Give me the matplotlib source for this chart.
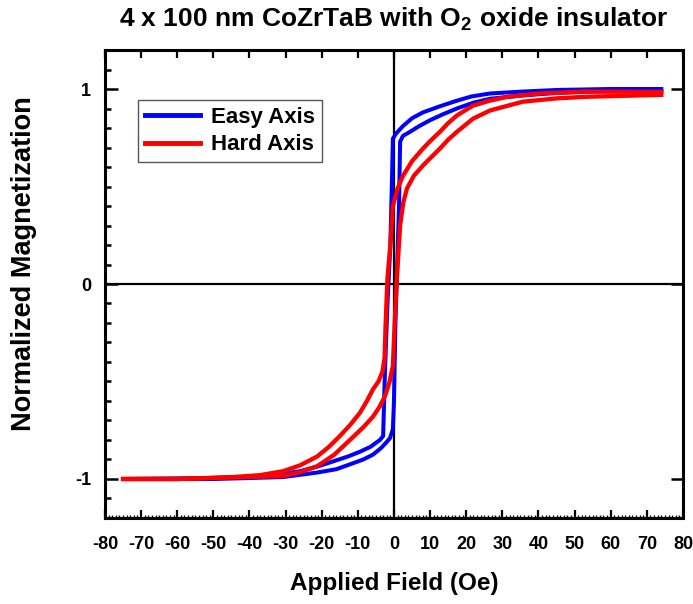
import numpy as np
import matplotlib
matplotlib.use('Agg')
from matplotlib import pyplot as plt
from matplotlib.ticker import MultipleLocator

# easy axis loop, field sweep up then down (Oe, normalized M)
easy_up_h = [-75, -60, -50, -40, -30.7, -21.3, -16, -12.2, -8.5, -5.8, -3.5, -2, -1.1, -0.3,
             0, 0.4, 0.9, 1.4, 1.7, 2.5, 4.4, 7, 10, 13.5, 17.4, 22, 26.6, 35.7, 45, 60, 74]
easy_up_m = [-1.0, -1.0, -1.0, -0.995, -0.99, -0.967, -0.95, -0.925, -0.9, -0.875, -0.84, -0.81,
             -0.79, -0.745, -0.6, -0.2, 0.1, 0.4, 0.73, 0.76, 0.78, 0.81, 0.84, 0.87, 0.90,
             0.93, 0.95, 0.967, 0.98, 0.99, 0.99]
easy_dn_h = [74, 60, 45, 35.7, 26.6, 21.5, 17.4, 12.5, 8, 5, 2.5, 0.5, -0.3, -0.6, -1.0, -1.8,
             -2.5, -3, -3.9, -6.5, -9.4, -12.8, -16.9, -21, -26, -35, -50, -75]
easy_dn_m = [1.0, 1.0, 0.995, 0.987, 0.977, 0.962, 0.94, 0.91, 0.88, 0.85, 0.81, 0.77, 0.745,
             0.5, 0.2, -0.1, -0.45, -0.78, -0.80, -0.835, -0.86, -0.885, -0.91, -0.935, -0.96,
             -0.985, -0.995, -1.0]

# hard axis loop
hard_up_h = [-75, -60, -50, -40, -30.7, -26, -21.3, -16.5, -12.2, -8.5, -5.8, -4, -2.5, -1.2,
             -0.3, 0.2, 0.8, 1.7, 2.6, 3.6, 5.5, 8, 10.3, 12.7, 15, 17.4, 21.9, 26.6, 35.7,
             45, 53, 74]
hard_up_m = [-1.0, -1.0, -0.995, -0.99, -0.985, -0.965, -0.935, -0.875, -0.80, -0.735, -0.68,
             -0.63, -0.576, -0.5, -0.42, -0.2, 0.03, 0.30, 0.42, 0.49, 0.555, 0.607, 0.65,
             0.694, 0.74, 0.78, 0.848, 0.89, 0.935, 0.952, 0.96, 0.97]
hard_dn_h = [74, 53, 40.4, 31.3, 26.5, 21.9, 17.4, 15, 12.7, 10.3, 8, 5, 2.5, 1, -0.3, -1.0,
             -1.8, -2.3, -2.6, -3.2, -4.3, -5.8, -7.5, -9.4, -12, -15, -18, -21.3, -26,
             -30.7, -37, -44.6, -60, -75]
hard_dn_m = [0.985, 0.987, 0.977, 0.96, 0.94, 0.915, 0.864, 0.825, 0.78, 0.738, 0.694, 0.63,
             0.555, 0.49, 0.40, 0.2, 0.03, -0.2, -0.38, -0.45, -0.5, -0.54, -0.6, -0.66,
             -0.72, -0.78, -0.835, -0.885, -0.93, -0.96, -0.98, -0.99, -1.0, -1.0]

plt.rcParams['font.family'] = ['Liberation Sans', 'DejaVu Sans']
plt.rcParams['font.weight'] = 'bold'
plt.rcParams['axes.unicode_minus'] = False
plt.rcParams['mathtext.fontset'] = 'custom'
plt.rcParams['mathtext.rm'] = 'Liberation Sans:bold'
plt.rcParams['mathtext.it'] = 'Liberation Sans:bold'
plt.rcParams['mathtext.bf'] = 'Liberation Sans:bold'
plt.rcParams['mathtext.default'] = 'rm'

fig = plt.figure(figsize=(6.93, 6.04), dpi=100)
ax = fig.add_axes([0.1515, 0.1424, 0.834, 0.7748])

ax.axhline(0, color='black', lw=1.6, zorder=1)
ax.axvline(0, color='black', lw=1.6, zorder=1)

ax.plot(easy_up_h, easy_up_m, color='#0000ff', lw=2.9, label='Easy Axis', zorder=2)
ax.plot(easy_dn_h, easy_dn_m, color='#0000ff', lw=2.9, zorder=2)
ax.plot(hard_up_h, hard_up_m, color='#ff0000', lw=3.1, label='Hard Axis', zorder=3)
ax.plot(hard_dn_h, hard_dn_m, color='#ff0000', lw=3.1, zorder=3)

ax.set_xlim(-80, 80)
ax.set_ylim(-1.2, 1.2)
ax.xaxis.set_major_locator(MultipleLocator(10))
ax.xaxis.set_minor_locator(MultipleLocator(1))
ax.yaxis.set_major_locator(MultipleLocator(1))
ax.yaxis.set_minor_locator(MultipleLocator(0.1))

for s in ax.spines.values():
    s.set_linewidth(2.2)

ax.tick_params(axis='x', which='major', direction='in', length=6, width=1.6,
               top=True, labelsize=13, pad=13)
ax.tick_params(axis='x', which='minor', direction='in', length=2.2, width=1.0,
               top=False)
ax.tick_params(axis='y', which='major', direction='in', length=9, width=1.8,
               right=True, labelsize=13, pad=10)
ax.tick_params(axis='y', which='minor', direction='in', length=4.5, width=1.8,
               right=False)

ax.set_xlabel('Applied Field (Oe)', fontsize=17.5, fontweight='bold', labelpad=14)
ax.set_ylabel('Normalized Magnetization', fontsize=19.5, fontweight='bold', labelpad=26)
ax.yaxis.set_label_coords(-0.118, 0.543)
ax.set_title('4 x 100 nm CoZrTaB with O$_{2}$ oxide insulator', fontsize=19,
             fontweight='bold', pad=17)

leg = ax.legend(loc='upper left', bbox_to_anchor=(0.057, 0.893), borderaxespad=0,
                fancybox=False, framealpha=1, edgecolor='#555555',
                prop={'size': 16, 'weight': 'bold'}, handlelength=2.5,
                handletextpad=0.5, labelspacing=0.3, borderpad=0.3)
leg.get_frame().set_linewidth(1.0)
for h in leg.get_lines():
    h.set_linewidth(3.5)

fig.savefig('out.png', dpi=100)
